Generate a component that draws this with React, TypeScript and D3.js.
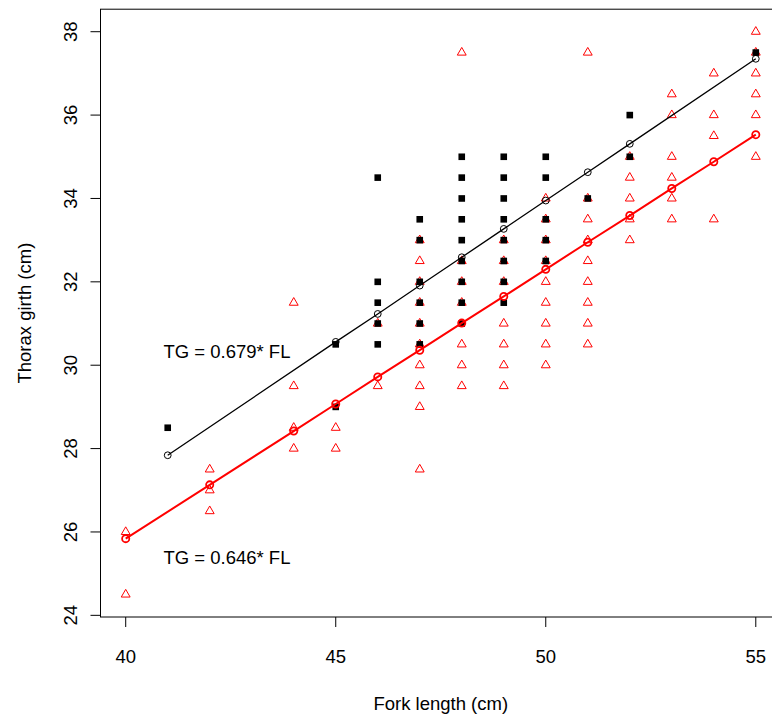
import React from "react";
import * as d3 from "d3";

// black squares: fish group 1 (fork length, thorax girth)
const blackFL = [
  41,
  45, 45,
  46, 46, 46, 46, 46,
  47, 47, 47, 47, 47, 47,
  48, 48, 48, 48, 48, 48, 48, 48, 48,
  49, 49, 49, 49, 49, 49, 49, 49,
  50, 50, 50, 50, 50,
  51,
  52, 52,
  55,
];
const blackTG = [
  28.5,
  30.5, 29.0,
  34.5, 32.0, 31.5, 31.0, 30.5,
  33.5, 33.0, 32.0, 31.5, 31.0, 30.5,
  35.0, 34.5, 34.0, 33.5, 33.0, 32.5, 32.0, 31.5, 31.0,
  35.0, 34.5, 34.0, 33.5, 33.0, 32.5, 32.0, 31.5,
  35.0, 34.5, 33.5, 33.0, 32.5,
  34.0,
  36.0, 35.0,
  37.5,
];

// red triangles: fish group 2
const redFL = [
  40, 40,
  42, 42, 42,
  44, 44, 44, 44,
  45, 45,
  46, 46,
  47, 47, 47, 47, 47, 47, 47, 47, 47, 47,
  48, 48, 48, 48, 48, 48, 48,
  49, 49, 49, 49, 49, 49, 49,
  50, 50, 50, 50, 50, 50, 50, 50, 50,
  51, 51, 51, 51, 51, 51, 51, 51, 51,
  52, 52, 52, 52, 52,
  53, 53, 53, 53, 53, 53,
  54, 54, 54, 54,
  55, 55, 55, 55, 55, 55,
];
const redTG = [
  26.0, 24.5,
  27.5, 27.0, 26.5,
  31.5, 29.5, 28.5, 28.0,
  28.5, 28.0,
  31.0, 29.5,
  33.0, 32.5, 32.0, 31.5, 31.0, 30.5, 30.0, 29.5, 29.0, 27.5,
  37.5, 32.5, 32.0, 31.5, 30.5, 30.0, 29.5,
  33.0, 32.5, 32.0, 31.0, 30.5, 30.0, 29.5,
  34.0, 33.5, 33.0, 32.5, 32.0, 31.5, 31.0, 30.5, 30.0,
  37.5, 34.0, 33.5, 33.0, 32.5, 32.0, 31.5, 31.0, 30.5,
  35.0, 34.5, 34.0, 33.5, 33.0,
  36.5, 36.0, 35.0, 34.5, 34.0, 33.5,
  37.0, 36.0, 35.5, 33.5,
  38.0, 37.5, 37.0, 36.5, 36.0, 35.0,
];

// fitted values
const blackFitFL = [41, 45, 46, 47, 48, 49, 50, 51, 52, 55];
const blackFitTG = [27.84, 30.56, 31.23, 31.91, 32.59, 33.27, 33.95, 34.63, 35.31, 37.35];
const redFitFL = [40, 42, 44, 45, 46, 47, 48, 49, 50, 51, 52, 53, 54, 55];
const redFitTG = [25.84, 27.13, 28.42, 29.07, 29.72, 30.36, 31.01, 31.65, 32.3, 32.95, 33.59, 34.24, 34.88, 35.53];

const xTicks = [40, 45, 50, 55];
const yTicks = [24, 26, 28, 30, 32, 34, 36, 38];

const width = 772;
const height = 716;
const font = "'Liberation Sans', Arial, Helvetica, sans-serif";
const fs = 18.5;

const left = 100.5;
const right = 781;
const top = 9.2;
const bottom = 617;

const x = d3.scaleLinear().domain([39.4, 55.6]).range([left, right]);
const y = d3.scaleLinear().domain([23.96, 38.54]).range([bottom, top]);

const R = 3.3;
const tri = `M0,${-1.555 * R}L${1.347 * R},${0.778 * R}L${-1.347 * R},${0.778 * R}Z`;

const App = () => {
  const blackLine = d3
    .line<number>()
    .x((d) => x(d))
    .y((_, i) => y(blackFitTG[i]));
  const redLine = d3
    .line<number>()
    .x((d) => x(d))
    .y((_, i) => y(redFitTG[i]));

  return (
    <svg
      width={width}
      height={height}
      style={{ position: "absolute", left: 0, top: 0, background: "#fff" }}
      fontFamily={font}
    >
      {/* red triangles */}
      {redFL.map((d, i) => (
        <path
          key={"r" + i}
          d={tri}
          transform={`translate(${x(d)},${y(redTG[i])})`}
          fill="none"
          stroke="#ff0000"
          strokeWidth={1}
        />
      ))}
      {/* black squares */}
      {blackFL.map((d, i) => (
        <rect
          key={"b" + i}
          x={x(d) - R}
          y={y(blackTG[i]) - R}
          width={2 * R}
          height={2 * R}
          fill="#000"
        />
      ))}

      {/* fitted lines */}
      <path d={blackLine(blackFitFL) || ""} fill="none" stroke="#000" strokeWidth={1.3} />
      {blackFitFL.map((d, i) => (
        <circle key={"bc" + i} cx={x(d)} cy={y(blackFitTG[i])} r={3.4} fill="none" stroke="#000" strokeWidth={1} />
      ))}
      <path d={redLine(redFitFL) || ""} fill="none" stroke="#ff0000" strokeWidth={2} />
      {redFitFL.map((d, i) => (
        <circle key={"rc" + i} cx={x(d)} cy={y(redFitTG[i])} r={3.6} fill="none" stroke="#ff0000" strokeWidth={1.8} />
      ))}

      {/* box */}
      <rect x={left} y={top} width={right - left} height={bottom - top} fill="none" stroke="#000" strokeWidth={1} />

      {/* x axis */}
      {xTicks.map((t) => (
        <g key={"xt" + t}>
          <line x1={x(t)} x2={x(t)} y1={bottom} y2={bottom + 10} stroke="#000" />
          <text x={x(t)} y={663} textAnchor="middle" fontSize={fs}>
            {t}
          </text>
        </g>
      ))}
      <text x={(left + right) / 2} y={710} textAnchor="middle" fontSize={fs}>
        Fork length (cm)
      </text>

      {/* y axis */}
      {yTicks.map((t) => (
        <g key={"yt" + t}>
          <line x1={left - 10} x2={left} y1={y(t)} y2={y(t)} stroke="#000" />
          <text
            transform={`translate(77,${y(t)}) rotate(-90)`}
            textAnchor="middle"
            fontSize={fs}
          >
            {t}
          </text>
        </g>
      ))}
      <text
        transform={`translate(31,${(top + bottom) / 2}) rotate(-90)`}
        textAnchor="middle"
        fontSize={fs}
      >
        Thorax girth (cm)
      </text>

      {/* equations */}
      <text x={x(42.41)} y={y(30.34)} dy="0.35em" textAnchor="middle" fontSize={fs}>
        TG = 0.679* FL
      </text>
      <text x={x(42.41)} y={y(25.39)} dy="0.35em" textAnchor="middle" fontSize={fs}>
        TG = 0.646* FL
      </text>
    </svg>
  );
};

export default App;
